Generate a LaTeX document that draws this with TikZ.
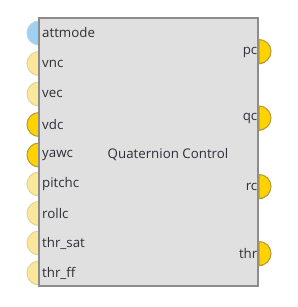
\documentclass[tikz,border=0pt]{standalone}
\usepackage{fontspec}
\setmainfont{Open Sans}
\definecolor{boxfill}{HTML}{E0E0E0}
\definecolor{boxline}{HTML}{8C8C8C}
\definecolor{portblue}{HTML}{9DD0F2}
\definecolor{portblueline}{HTML}{B5D5EA}
\definecolor{portpale}{HTML}{FBE79A}
\definecolor{portpaleline}{HTML}{E0D49A}
\definecolor{portgold}{HTML}{FFD200}
\definecolor{portgoldline}{HTML}{B39B3A}
\definecolor{txt}{HTML}{2E2E38}
\begin{document}
\begin{tikzpicture}[x=1pt,y=-1pt,
  port/.style={circle,minimum size=24pt,inner sep=0pt,line width=1pt},
  pblue/.style={port,fill=portblue,draw=portblueline},
  ppale/.style={port,fill=portpale,draw=portpaleline},
  pgold/.style={port,fill=portgold,draw=portgoldline},
  lbl/.style={font=\fontsize{13.3}{15}\selectfont,text=txt,inner sep=0pt},
  block/.style={draw=boxline,fill=boxfill,line width=2pt}]
\useasboundingbox (0,0) rectangle (297,307);
% ports (drawn first, box covers inner halves)
\node[pblue] (p1) at (39,33) {};
\node[ppale] (p2) at (39,63.5) {};
\node[ppale] (p3) at (39,94) {};
\node[pgold] (p4) at (39,124.5) {};
\node[pgold] (p5) at (39,155) {};
\node[ppale] (p6) at (39,184) {};
\node[ppale] (p7) at (39,213.5) {};
\node[ppale] (p8) at (39,243) {};
\node[ppale] (p9) at (39,273) {};
\node[pgold] (o1) at (258,52) {};
\node[pgold] (o2) at (258,118.5) {};
\node[pgold] (o3) at (258,187) {};
\node[pgold] (o4) at (258,254) {};
% block
\draw[block] (39,18) rectangle (258,286);
\node[lbl,anchor=center] (title) at (168,155) {Quaternion Control};
% input labels
\node[lbl,anchor=west] (l1) at (42,33) {attmode};
\node[lbl,anchor=west] (l2) at (42,63.5) {vnc};
\node[lbl,anchor=west] (l3) at (42,94) {vec};
\node[lbl,anchor=west] (l4) at (42,124.5) {vdc};
\node[lbl,anchor=west] (l5) at (42,155) {yawc};
\node[lbl,anchor=west] (l6) at (42,184) {pitchc};
\node[lbl,anchor=west] (l7) at (42,213.5) {rollc};
\node[lbl,anchor=west] (l8) at (42,243) {thr\_sat};
\node[lbl,anchor=west] (l9) at (42,273) {thr\_ff};
% output labels
\node[lbl,anchor=east] (m1) at (257.5,52) {pc};
\node[lbl,anchor=east] (m2) at (257.5,118.5) {qc};
\node[lbl,anchor=east] (m3) at (257.5,187) {rc};
\node[lbl,anchor=east] (m4) at (257.5,254) {thr};
% redraw right half of output ports over the border
\foreach \n in {o1,o2,o3,o4}{
  \path[fill=portgold,draw=portgoldline,line width=1pt]
    ([xshift=1pt]\n.north) arc[start angle=90,end angle=-90,radius=12pt] -- cycle;
}
\end{tikzpicture}
\end{document}
